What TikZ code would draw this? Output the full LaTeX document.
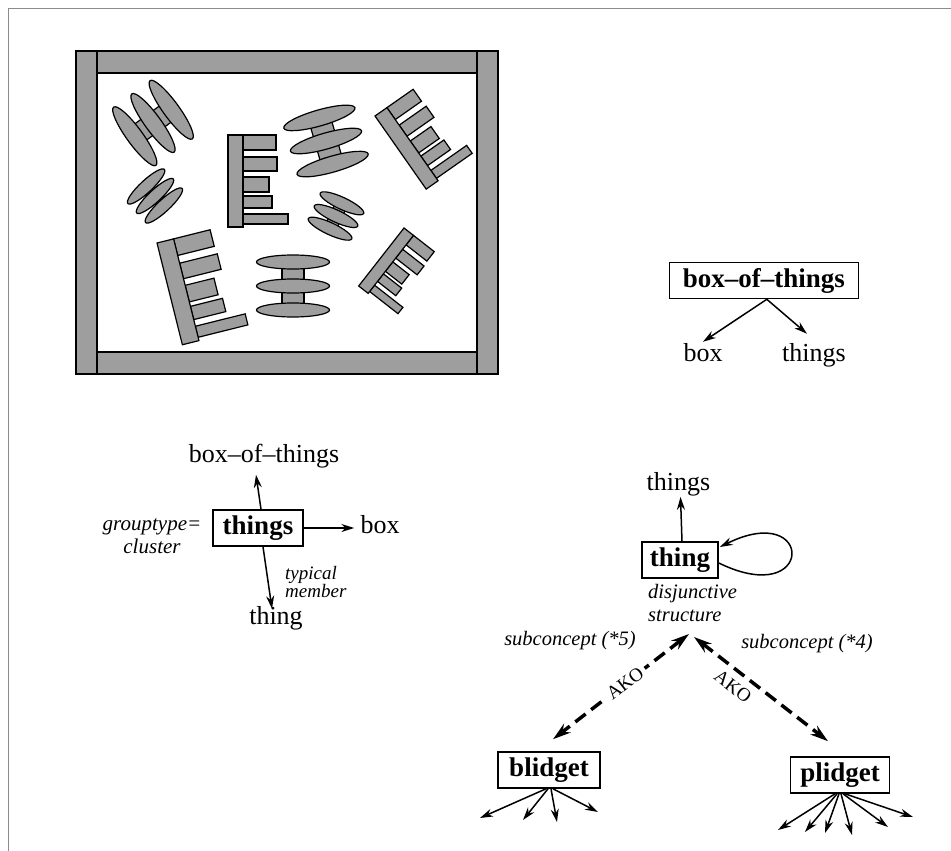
\documentclass[tikz,border=0pt]{standalone}
\usepackage{fontspec}
\setmainfont{Liberation Serif}[
  BoldFont = {Liberation Serif Bold},
  ItalicFont = {Liberation Serif Italic},
  BoldItalicFont = {Liberation Serif Bold Italic}]
\usetikzlibrary{arrows.meta}

\tikzset{
  obj/.style={draw=black, fill=black!38, line width=1.2pt},
  bnode/.style={draw, line width=1.6pt, font=\fontsize{27}{30}\selectfont\bfseries,
    inner xsep=0pt, inner ysep=0pt, text height=19pt, text depth=6pt, minimum height=36pt},
  lbl/.style={font=\fontsize{26}{28}\selectfont, inner sep=1pt, anchor=base},
  ann/.style={font=\fontsize{20.5}{23}\selectfont\itshape, inner sep=0pt},
  akotext/.style={font=\fontsize{19}{20}\selectfont, inner xsep=4pt, inner ysep=2pt},
  arr/.style={line width=1.5pt, -{Stealth[length=13pt, width=8pt]}},
  ako/.style={line width=3.5pt, dash pattern=on 13pt off 7pt,
    {Stealth[length=18pt, width=11pt]}-{Stealth[length=18pt, width=11pt]}},
  % a spool: hub plus three flanges; args: flange half-length, half-thickness, spacing, hub width
  pics/spool/.style n args={4}{code={
    \filldraw[obj] (-#4/2,-#3) rectangle (#4/2,#3);
    \filldraw[obj] (0,-#3) ellipse [x radius=#1pt, y radius=#2pt];
    \filldraw[obj] (0,0) ellipse [x radius=#1pt, y radius=#2pt];
    \filldraw[obj] (0,#3) ellipse [x radius=#1pt, y radius=#2pt];
  }},
  % a comb: spine with five teeth, origin at the outer top corner of the spine
  pics/comb/.style={code={
    \filldraw[obj] (15,0) rectangle (48,15);
    \filldraw[obj] (15,22) rectangle (49,36);
    \filldraw[obj] (15,42) rectangle (41,57);
    \filldraw[obj] (15,61) rectangle (44,73);
    \filldraw[obj] (15,79) rectangle (60,89);
    \filldraw[obj] (0,0) rectangle (15,92);
  }},
}

\begin{document}
\begin{tikzpicture}[x=1pt, y=-1pt]
\useasboundingbox (0,0) rectangle (951,851);
\fill[white] (0,0) rectangle (951,851);
\draw[black!45, line width=1pt] (8,851) -- (8,9) -- (951,9);

% ---------- the box with its contents ----------
\filldraw[obj] (76,51) rectangle (97,374);
\filldraw[obj] (477,51) rectangle (498,374);
\filldraw[obj] (97,51) rectangle (477,73);
\filldraw[obj] (97,352) rectangle (477,374);

\pic[rotate=-54] at (153,123) {spool={36}{8}{22.5}{20}};
\pic[rotate=43]  at (155,196) {spool={25}{6}{13}{12}};
\pic[rotate=16]  at (326,141) {spool={37}{8}{24}{22}};
\pic[rotate=-25] at (336,216) {spool={24}{6}{14}{12}};
\pic             at (293,286) {spool={36.5}{7}{24}{22}};

\pic at (228,135) {comb};
\pic[rotate=35, scale=0.97] at (375,116) {comb};
\pic[rotate=14, scale=1.14] at (157,243) {comb};
\pic[rotate=-38, scale=0.8] at (404,228) {comb};

% ---------- box-of-things decomposition ----------
\node[bnode, minimum width=189pt] (bot) at (763.8,280.5) {box--of--things};
\node[lbl] (tbox) at (703,361) {box};
\node[lbl] (tthings) at (814,361) {things};
\draw[arr] ([xshift=3pt]bot.south) -- (tbox.north);
\draw[arr] ([xshift=3pt]bot.south) -- ([xshift=-7pt,yshift=8pt]tthings.north);

% ---------- things as a cluster ----------
\node[bnode, minimum width=90pt] (things) at (258,528) {things};
\node[lbl] (lbot) at (264,462) {box--of--things};
\node[lbl] (lbox) at (380,533) {box};
\node[lbl] (lthing) at (276,624) {thing};
\node[ann, font=\fontsize{21}{23}\selectfont\itshape, align=center] (gtype) at (152,536) {grouptype=\\cluster};
\node[ann, font=\fontsize{19}{17}\selectfont\itshape, align=left, anchor=north west] (typ) at (285,566) {typical\\member};
\draw[arr] ([xshift=3pt]things.north) -- ([xshift=-8pt,yshift=-6pt]lbot.south);
\draw[arr, shorten >=5pt] (things.east) -- (things.east -| lbox.west);
\draw[arr] ([xshift=5pt]things.south) -- ([xshift=-4pt,yshift=-4pt]lthing.north);

% ---------- thing with its subconcepts ----------
\node[bnode, minimum width=76pt] (thingb) at (680,560) {thing};
\node[lbl] (rthings) at (678.5,490) {things};
\draw[arr] ([xshift=2pt]thingb.north) -- ([xshift=2pt]rthings.south);
\draw[arr] ([yshift=-3pt]thingb.east) .. controls (815,610) and (815,500) .. ([yshift=13pt,xshift=1pt]thingb.east);
\node[ann, align=left, anchor=north west] (disj) at (648,584) {disjunctive\\structure};
\node[ann, anchor=base] (sub5) at (570,645) {subconcept (*5)};
\node[ann, anchor=base] (sub4) at (807,648) {subconcept (*4)};

\node[bnode, minimum width=102pt] (blid) at (549,770) {blidget};
\node[bnode, minimum width=99pt] (plid) at (840,775) {plidget};

\coordinate (apexL) at (689,634);
\coordinate (apexR) at (694,637);
\draw[ako] (apexL) -- ([xshift=4pt,yshift=12pt]blid.north)
  node[pos=0.47, sloped, fill=white, akotext] (akoL) {AKO};
\draw[ako] (apexR) -- ([xshift=-12pt,yshift=15pt]plid.north)
  node[pos=0.36, sloped, below=5pt, akotext] (akoR) {AKO};

% members of blidget and plidget
\coordinate (bl1) at (480,818);
\coordinate (bl2) at (523,820);
\coordinate (bl3) at (557,822);
\coordinate (bl4) at (598,812);
\foreach \i/\dx in {1/-3,2/-1,3/2,4/4}
  \draw[arr] ([xshift=\dx pt]blid.south) -- (bl\i);

\coordinate (pl1) at (778,830);
\coordinate (pl2) at (805,832);
\coordinate (pl3) at (825,833);
\coordinate (pl4) at (852,835);
\coordinate (pl5) at (888,827);
\coordinate (pl6) at (913,817);
\foreach \i/\dx in {1/-5,2/-3,3/-1,4/1,5/3,6/5}
  \draw[arr] ([xshift=\dx pt]plid.south) -- (pl\i);
\end{tikzpicture}
\end{document}
